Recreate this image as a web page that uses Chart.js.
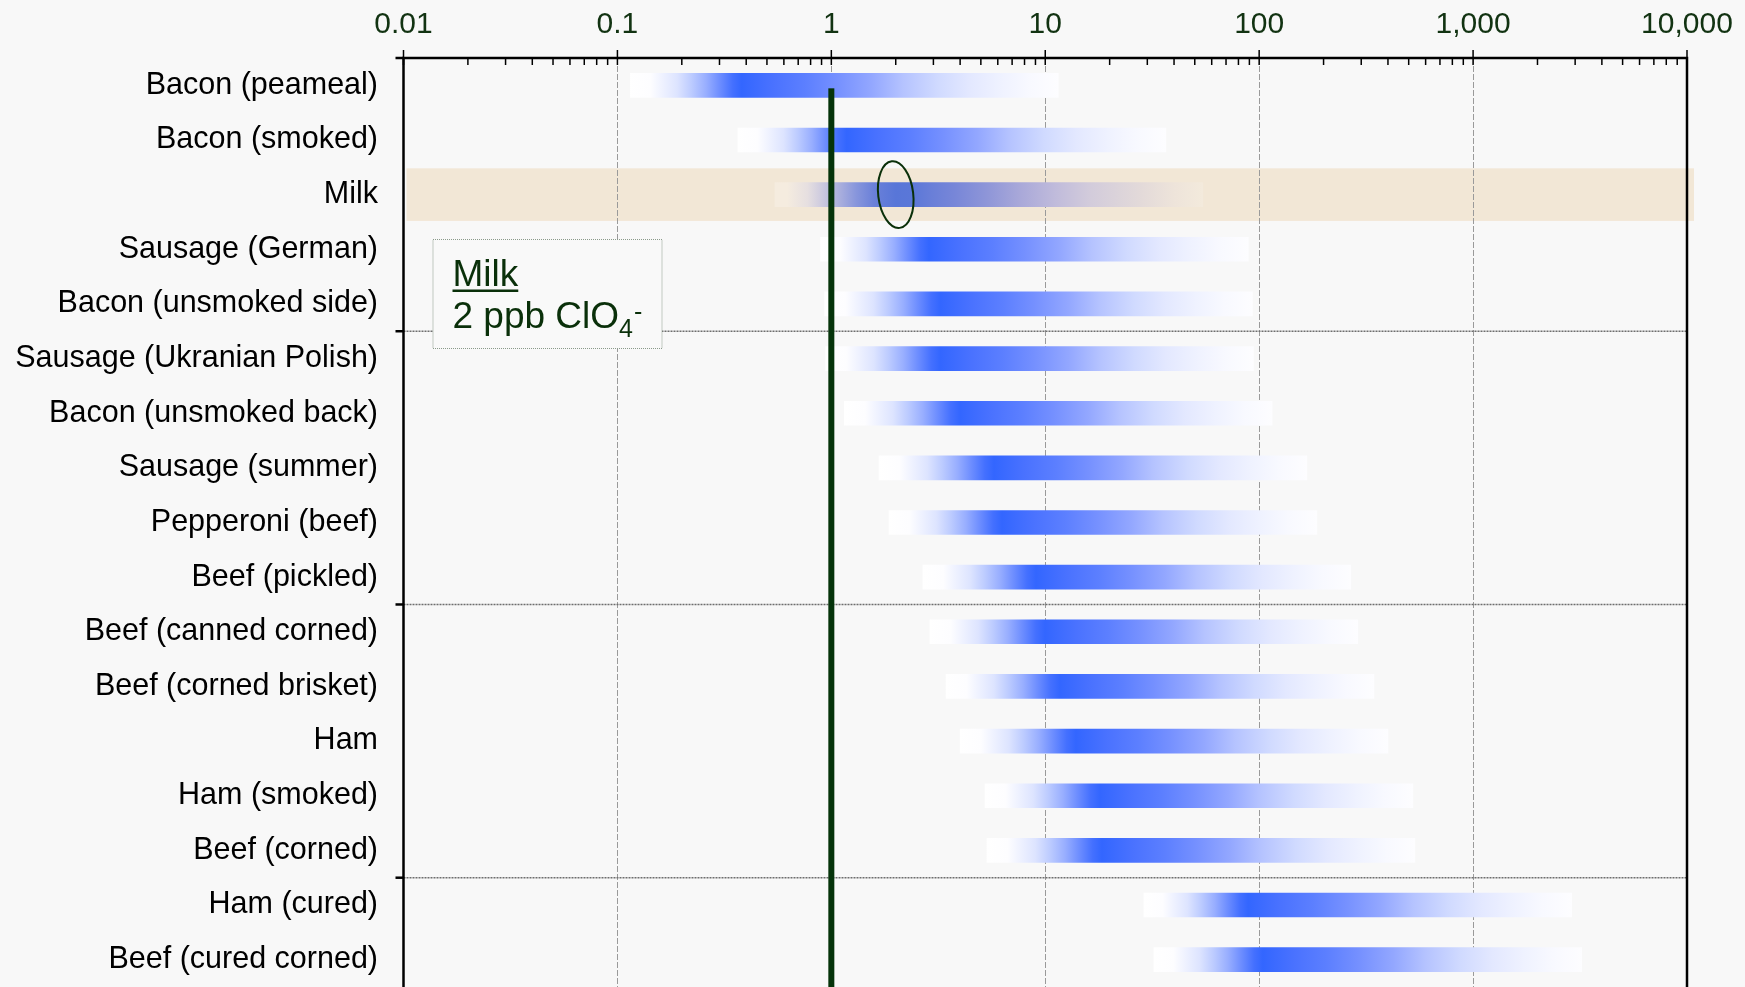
<!DOCTYPE html>
<html>
<head>
<meta charset="utf-8">
<title>Perchlorate in cured meats and milk</title>
<script src="https://cdn.jsdelivr.net/npm/chart.js@4/dist/chart.umd.min.js"></script>
<style>
  html, body { margin: 0; padding: 0; background: #f8f8f8; overflow: hidden; }
  #wrap { width: 1745px; height: 987px; }
</style>
</head>
<body>
<div id="wrap"><canvas id="chart" width="1745" height="987"></canvas></div>
<script>
// Foods, top to bottom
const categories = [
  'Bacon (peameal)', 'Bacon (smoked)', 'Milk', 'Sausage (German)',
  'Bacon (unsmoked side)', 'Sausage (Ukranian Polish)', 'Bacon (unsmoked back)',
  'Sausage (summer)', 'Pepperoni (beef)', 'Beef (pickled)', 'Beef (canned corned)',
  'Beef (corned brisket)', 'Ham', 'Ham (smoked)', 'Beef (corned)', 'Ham (cured)',
  'Beef (cured corned)'
];
// Range of each band (ppb) and where its colour is strongest
const lowValues  = [0.115, 0.366, 0.545, 0.89, 0.93, 0.94, 1.15, 1.67, 1.86, 2.68, 2.89, 3.44, 4.0, 5.23, 5.34, 28.9, 32.2];
const highValues = [11.5, 36.6, 54.5, 89, 93, 94, 115, 167, 186, 268, 289, 344, 400, 523, 534, 2890, 3220];
const peakValues = [0.381, 1.18, 2, 2.86, 3.24, 3.24, 4.0, 5.76, 6.28, 9.05, 9.97, 11.7, 13.9, 18.0, 18.4, 88.7, 104];

// Log axis decades and their labels
const tickValues = [0.01, 0.1, 1, 10, 100, 1000, 10000];
const tickLabels = ['0.01', '0.1', '1', '10', '100', '1,000', '10,000'];

// Reference level line and the highlighted row with its callout
const referenceLevel = 1;
const highlightCategory = 'Milk';
const calloutTitle = 'Milk';
const calloutText = '2 ppb ClO';
const calloutSub = '4';
const calloutSup = '-';

const FONT = '"Liberation Sans", Arial, sans-serif';
const BG = '#f8f8f8';
const DARK_GREEN = '#0a300a';

// Colour ramps: "rise" runs from the low end to the peak, "fall" from the peak to the high end
const barRamp = {
  rise: [[0, '#ffffff'], [0.18, '#fdfdff'], [0.42, '#dde4ff'], [0.55, '#bccbff'], [0.68, '#98aeff'],
         [0.8, '#6e8eff'], [0.92, '#4470ff'], [1, '#3366ff']],
  fall: [[0.1, '#4a72ff'], [0.2, '#5c7fff'], [0.3, '#7590ff'], [0.41, '#93a7ff'], [0.51, '#b5c3ff'],
         [0.62, '#d0daff'], [0.72, '#e3e8ff'], [0.82, '#eff2ff'], [0.91, '#f8f9ff'], [1, '#fdfdff']]
};
const highlightRamp = {
  rise: [[0, '#f5ecdf'], [0.1, '#f5ecdf'], [0.27, '#e6dfe0'], [0.4, '#cac8df'], [0.54, '#a9aedd'],
         [0.67, '#8896dc'], [0.82, '#6a80d9'], [1, '#5876d8']],
  fall: [[0.05, '#5a77d8'], [0.12, '#6a7fd8'], [0.19, '#7786d8'], [0.3, '#8f96d8'], [0.41, '#aaa9d9'],
         [0.52, '#c0bbdb'], [0.63, '#d2cbdb'], [0.8, '#e3dad9'], [0.91, '#eee4da'], [1, '#f3eadc']]
};

function barFill(context) {
  const chart = context.chart;
  const xs = chart.scales.x;
  if (context.type !== 'data' || !chart.chartArea || !xs) return '#3366ff';
  const i = context.dataIndex;
  const x0 = xs.getPixelForValue(lowValues[i]);
  const x1 = xs.getPixelForValue(highValues[i]);
  const xp = xs.getPixelForValue(peakValues[i]);
  const p = Math.min(Math.max((xp - x0) / (x1 - x0), 0.01), 0.99);
  const g = chart.ctx.createLinearGradient(x0, 0, x1, 0);
  const ramp = categories[i] === highlightCategory ? highlightRamp : barRamp;
  ramp.rise.forEach(([r, c]) => g.addColorStop(r * p, c));
  ramp.fall.forEach(([t, c]) => g.addColorStop(p + t * (1 - p), c));
  return g;
}

function boundaryY(ys, k) {
  if (k <= 0) return ys.chart.chartArea.top;
  return (ys.getPixelForValue(k - 1) + ys.getPixelForValue(k)) / 2;
}

const framePlugin = {
  id: 'frame',
  beforeDraw(chart) {
    const { ctx, chartArea: a } = chart;
    const ys = chart.scales.y;
    ctx.save();
    ctx.fillStyle = BG;
    ctx.fillRect(0, 0, chart.width, chart.height);
    // highlighted row band
    const hi = categories.indexOf(highlightCategory);
    const yc = ys.getPixelForValue(hi);
    ctx.fillStyle = '#f2e7d6';
    ctx.fillRect(a.left + 3, yc - 26.3, a.right - a.left + 4, 52.6);
    ctx.restore();
  },
  beforeDatasetsDraw(chart) {
    const { ctx, chartArea: a } = chart;
    const xs = chart.scales.x, ys = chart.scales.y;
    ctx.save();
    // vertical decade grid lines
    ctx.strokeStyle = '#9a9a9a';
    ctx.lineWidth = 1;
    ctx.setLineDash([6, 2]);
    tickValues.slice(1, -1).forEach(v => {
      const x = Math.round(xs.getPixelForValue(v)) + 0.5;
      ctx.beginPath(); ctx.moveTo(x, a.top); ctx.lineTo(x, a.bottom); ctx.stroke();
    });
    // horizontal grid lines every five rows
    ctx.strokeStyle = '#6e6e6e';
    ctx.lineWidth = 1.5;
    ctx.setLineDash([2, 1]);
    for (let k = 5; k < categories.length; k += 5) {
      const y = boundaryY(ys, k);
      ctx.beginPath(); ctx.moveTo(a.left, y); ctx.lineTo(a.right, y); ctx.stroke();
    }
    ctx.setLineDash([]);
    // axis lines and plot border
    ctx.strokeStyle = '#000';
    ctx.lineWidth = 2.5;
    ctx.beginPath();
    ctx.moveTo(a.left, a.bottom + 2); ctx.lineTo(a.left, a.top); ctx.lineTo(a.right, a.top); ctx.lineTo(a.right, a.bottom + 2);
    ctx.stroke();
    // tick marks on the value axis
    ctx.lineWidth = 1.5;
    for (let d = 0; d < tickValues.length; d++) {
      const base = tickValues[d];
      const xM = xs.getPixelForValue(base);
      ctx.beginPath(); ctx.moveTo(xM, a.top - 8); ctx.lineTo(xM, a.top + 7); ctx.stroke();
      if (d === tickValues.length - 1) break;
      for (let m = 2; m <= 9; m++) {
        const x = xs.getPixelForValue(base * m);
        ctx.beginPath(); ctx.moveTo(x, a.top); ctx.lineTo(x, a.top + 7); ctx.stroke();
      }
    }
    // tick marks on the category axis
    ctx.lineWidth = 2.5;
    for (let k = 0; k < categories.length; k += 5) {
      const y = boundaryY(ys, k);
      ctx.beginPath(); ctx.moveTo(a.left - 8, y); ctx.lineTo(a.left, y); ctx.stroke();
    }
    ctx.restore();
  },
  afterDatasetsDraw(chart) {
    const { ctx, chartArea: a } = chart;
    const xs = chart.scales.x, ys = chart.scales.y;
    ctx.save();
    // reference level line
    const xr = xs.getPixelForValue(referenceLevel);
    ctx.fillStyle = '#05330a';
    ctx.fillRect(xr - 3, ys.getPixelForValue(0) + 3, 6, a.bottom - ys.getPixelForValue(0));
    // ring round the highlighted level
    const hi = categories.indexOf(highlightCategory);
    const ex = xs.getPixelForValue(peakValues[hi]);
    const ey = ys.getPixelForValue(hi);
    ctx.strokeStyle = DARK_GREEN;
    ctx.lineWidth = 2;
    ctx.beginPath();
    ctx.ellipse(ex, ey, 17.5, 33.5, -0.12, 0, Math.PI * 2);
    ctx.stroke();
    // callout box
    const bx = a.left + 29.5, by = 239.5, bw = 229, bh = 109;
    ctx.fillStyle = '#f9f9f9';
    ctx.fillRect(bx, by, bw, bh);
    ctx.strokeStyle = '#8a9a8a';
    ctx.lineWidth = 1;
    ctx.setLineDash([1, 1]);
    ctx.strokeRect(bx, by, bw, bh);
    ctx.setLineDash([]);
    ctx.fillStyle = DARK_GREEN;
    ctx.textAlign = 'left';
    ctx.textBaseline = 'alphabetic';
    ctx.font = '37px ' + FONT;
    const tx = bx + 19.5;
    ctx.fillText(calloutTitle, tx, 286);
    const tw = ctx.measureText(calloutTitle).width;
    ctx.fillRect(tx, 289.5, tw, 2.5);
    ctx.fillText(calloutText, tx, 328.3);
    const w2 = ctx.measureText(calloutText).width;
    ctx.font = '25px ' + FONT;
    ctx.fillText(calloutSub, tx + w2, 337.3);
    const ws = ctx.measureText(calloutSub).width;
    ctx.fillText(calloutSup, tx + w2 + ws + 1, 319.5);
    ctx.restore();
  }
};

new Chart(document.getElementById('chart'), {
  type: 'bar',
  data: {
    labels: categories,
    datasets: [{
      data: categories.map((c, i) => [lowValues[i], highValues[i]]),
      backgroundColor: barFill,
      borderWidth: 0,
      borderSkipped: false,
      barThickness: 24
    }]
  },
  options: {
    indexAxis: 'y',
    responsive: false,
    maintainAspectRatio: false,
    animation: false,
    events: [],
    layout: { padding: { left: 0, right: 58, top: 0, bottom: 0 } },
    plugins: { legend: { display: false }, tooltip: { enabled: false } },
    scales: {
      x: {
        type: 'logarithmic',
        position: 'top',
        min: 0.01,
        max: 10000,
        afterBuildTicks: s => { s.ticks = tickValues.map(v => ({ value: v })); },
        afterFit: s => { s.height = 58; s.paddingLeft = 0; s.paddingRight = 0; },
        grid: { display: false, drawTicks: false },
        border: { display: false },
        ticks: {
          autoSkip: false,
          maxRotation: 0,
          padding: 15,
          color: '#123312',
          font: { family: FONT, size: 30 },
          callback: v => {
            const i = tickValues.findIndex(t => Math.abs(Math.log10(t) - Math.log10(v)) < 1e-9);
            return i >= 0 ? tickLabels[i] : '';
          }
        }
      },
      y: {
        type: 'category',
        offset: true,
        afterFit: s => { s.width = 403.5; s.paddingTop = 0; s.paddingBottom = 0; },
        grid: { display: false, drawTicks: false, offset: true },
        border: { display: false },
        ticks: {
          autoSkip: false,
          padding: 25.5,
          color: '#000',
          font: { family: FONT, size: 30.5 }
        }
      }
    }
  },
  plugins: [framePlugin]
});
</script>
</body>
</html>
